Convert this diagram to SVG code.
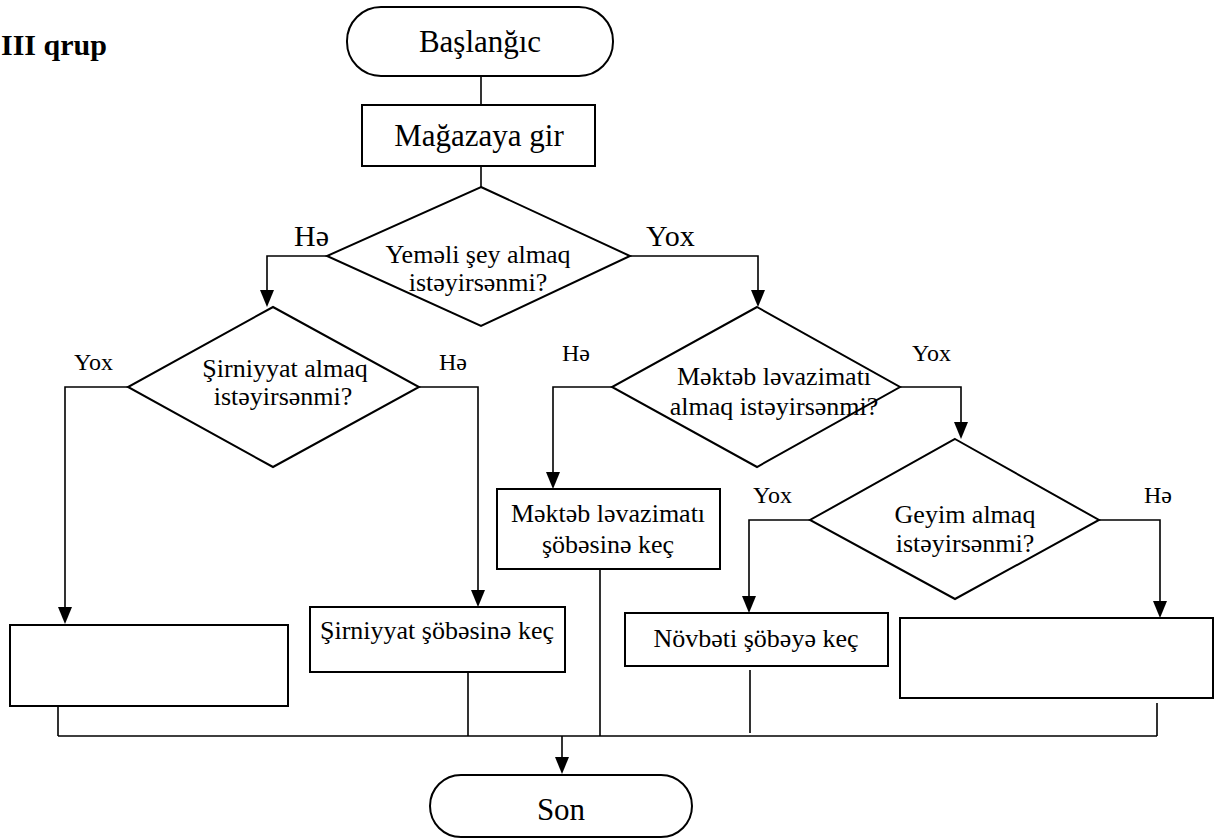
<svg xmlns="http://www.w3.org/2000/svg" width="1221" height="840" viewBox="0 0 1221 840">
<style>
.s{fill:#fff;stroke:#000;stroke-width:2}
.c{fill:none;stroke:#000;stroke-width:1.6}
text{font-family:"Liberation Serif","Times New Roman",serif;fill:#000}
.t{font-size:26px;text-anchor:middle}
.b{font-size:31px;text-anchor:middle}
.l{font-size:24px}
.L{font-size:30px}
.ah{fill:#000}
</style>
<text x="1" y="55" style="font-size:30px;font-weight:bold">III qrup</text>
<g id="connectors">
<path class="c" d="M481,76 V105"/>
<path class="c" d="M481,166 V187"/>
<path class="c" d="M327,256 H267 V292"/>
<path class="c" d="M630,256 H758 V292"/>
<path class="c" d="M128,387 H65 V608"/>
<path class="c" d="M419,387 H478 V592"/>
<path class="c" d="M612,387 H553 V474"/>
<path class="c" d="M900,387 H961 V424"/>
<path class="c" d="M810,520 H749 V598"/>
<path class="c" d="M1099,520 H1160 V603"/>
<path class="c" d="M58,706 V736 M468,672 V736 M600,569 V736 M750,670 V733 M1157,703 V736 M58,736 H1157"/>
<path class="c" d="M562,736 V758"/>
<g class="ah">
<path d="M260,290 L274,290 L267,307 Z"/>
<path d="M751,290 L765,290 L758,307 Z"/>
<path d="M58,607 L72,607 L65,624 Z"/>
<path d="M471,590 L485,590 L478,607 Z"/>
<path d="M546,472 L560,472 L553,489 Z"/>
<path d="M954,422 L968,422 L961,439 Z"/>
<path d="M742,596 L756,596 L749,613 Z"/>
<path d="M1153,601 L1167,601 L1160,618 Z"/>
<path d="M555,757 L569,757 L562,774 Z"/>
</g>
</g>
<g id="start"><rect class="s" x="347" y="7" width="266" height="69" rx="34"/><text class="b" x="480" y="52">Başlanğıc</text></g>
<g id="enter"><rect class="s" x="362" y="105" width="233" height="61"/><text class="b" x="479" y="146">Mağazaya gir</text></g>
<g id="d1"><polygon class="s" points="481,187 630,256 481,326 327,256"/><text class="t" x="478" y="263">Yeməli şey almaq</text><text class="t" x="478" y="291">istəyirsənmi?</text></g>
<text class="L" x="294" y="246">Hə</text>
<text class="L" x="646" y="246">Yox</text>
<g id="d2"><polygon class="s" points="273,307 419,387 273,467 128,387"/><text class="t" x="285" y="377">Şirniyyat almaq</text><text class="t" x="283" y="405">istəyirsənmi?</text></g>
<text class="l" x="74" y="370">Yox</text>
<text class="l" x="439" y="370">Hə</text>
<g id="d3"><polygon class="s" points="757,307 900,387 757,467 612,387"/><text class="t" x="774" y="385">Məktəb ləvazimatı</text><text class="t" x="774" y="415">almaq istəyirsənmi?</text></g>
<text class="l" x="562" y="361">Hə</text>
<text class="l" x="912" y="361">Yox</text>
<g id="d4"><polygon class="s" points="955,439 1099,520 955,599 810,520"/><text class="t" x="965" y="523">Geyim almaq</text><text class="t" x="965" y="552">istəyirsənmi?</text></g>
<text class="l" x="753" y="503">Yox</text>
<text class="l" x="1144" y="503">Hə</text>
<g id="r1"><rect class="s" x="10" y="625" width="278" height="81"/></g>
<g id="r2"><rect class="s" x="310" y="607" width="255" height="65"/><text class="t" x="437" y="639">Şirniyyat şöbəsinə keç</text></g>
<g id="r3"><rect class="s" x="497" y="489" width="223" height="80"/><text class="t" x="608" y="522">Məktəb ləvazimatı</text><text class="t" x="608" y="553">şöbəsinə keç</text></g>
<g id="r4"><rect class="s" x="625" y="613" width="263" height="53"/><text class="t" x="756" y="647">Növbəti şöbəyə keç</text></g>
<g id="r5"><rect class="s" x="900" y="618" width="313" height="80"/></g>
<g id="end"><rect class="s" x="430" y="775" width="262" height="62" rx="31"/><text class="b" x="561" y="820">Son</text></g>
</svg>
